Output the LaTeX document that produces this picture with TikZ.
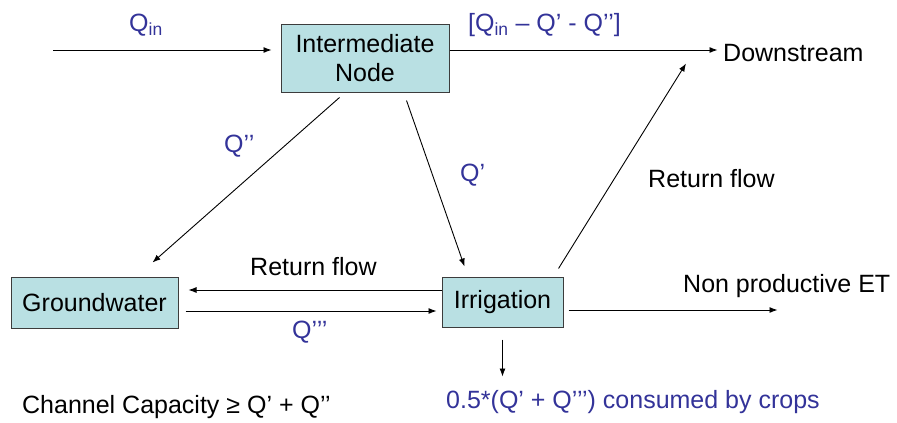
\documentclass[tikz,border=0pt]{standalone}
\usepackage{fontspec}
\setmainfont{Liberation Sans}
\usetikzlibrary{arrows.meta,calc}
\definecolor{boxfill}{RGB}{185,224,227}
\definecolor{boxline}{RGB}{60,60,60}
\definecolor{qblue}{RGB}{51,51,153}
\begin{document}
\begin{tikzpicture}[x=1pt,y=-1pt,
  font=\fontsize{25}{28}\selectfont,
  box/.style={draw=boxline,line width=1pt,fill=boxfill,inner sep=0pt,align=center},
  arr/.style={-{Latex[length=8pt,width=6pt]},line width=0.9pt},
  lbl/.style={inner sep=0pt,anchor=base west},
  qlbl/.style={lbl,text=qblue}]
\useasboundingbox (0,0) rectangle (897,423);
% boxes
\node[box,minimum width=168pt,minimum height=68pt] (inter) at (365,58) {Intermediate\\[1pt]Node};
\node[box,minimum width=167pt,minimum height=51pt] (gw) at (94.5,302.5) {Groundwater};
\node[box,minimum width=121pt,minimum height=50pt] (irr) at (502.5,302) {Irrigation};
% text nodes
\node[lbl] (ds) at (723,61) {Downstream};
\node[lbl] (npet) at (683,292) {Non productive ET};
\node[qlbl] (crops) at (446,408) {0.5*(Q’ + Q’’’) consumed by crops};
\node[lbl] (chan) at (22,413) {Channel Capacity ≥ Q’ + Q’’};
% labels
\node[qlbl] (lqin) at (129,31) {Q\textsubscript{in}};
\node[qlbl] (lrest) at (468,31) {[Q\textsubscript{in} – Q’ - Q’’]};
\node[qlbl] (lq2) at (224,152) {Q’’};
\node[qlbl] (lq1) at (460,181) {Q’};
\node[lbl] (lrf1) at (648,187) {Return flow};
\node[lbl] (lrf2) at (250,275) {Return flow};
\node[qlbl] (lq3) at (292,338) {Q’’’};
% free ends
\coordinate (src) at (53,50);
% connectors
\draw[arr] (src) -- ($(inter.west)+(-9,-8)$);
\draw[arr] ($(inter.east)+(0,-8)$) -- ++(268,0) coordinate (dsend);
\draw[arr] ($(inter.south west)+(59,5)$) -- ($(gw.north west)+(142,-14)$);
\draw[arr] ($(inter.south west)+(126,8)$) -- ($(irr.north west)+(23,-10)$);
\draw[arr] ($(irr.north west)+(117,-8)$) -- ($(ds.west)+(-37,11)$);
\draw[arr] ($(irr.west)+(0,-12)$) -- ($(gw.east)+(10,-12.5)$);
\draw[arr] ($(gw.east)+(7,8.5)$) -- ($(irr.west)+(-5,9)$);
\draw[arr] ($(irr.east)+(5,8)$) -- ++(209,0) coordinate (etend);
\draw[arr] ($(irr.south)+(0,12)$) -- ++(0,37) coordinate (cropend);
\end{tikzpicture}
\end{document}
